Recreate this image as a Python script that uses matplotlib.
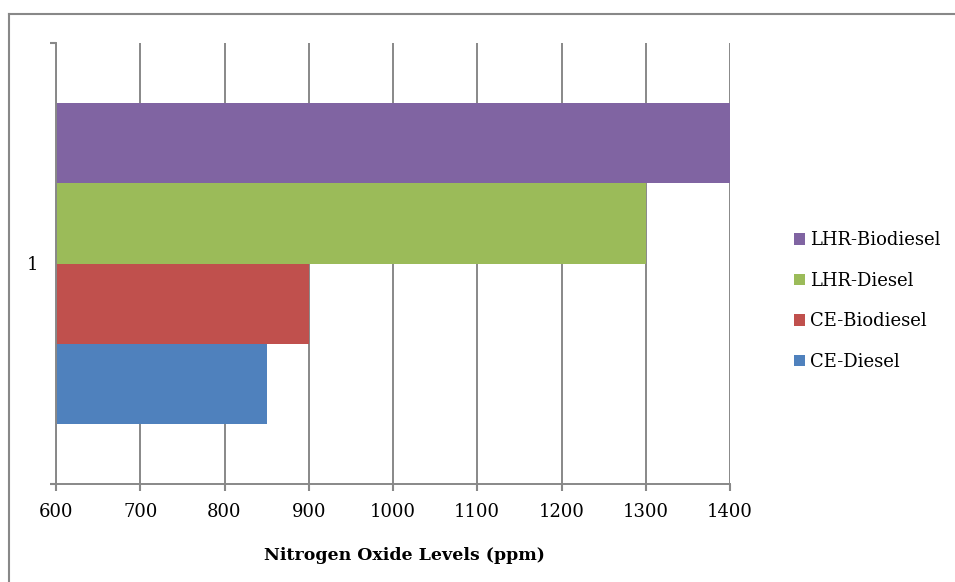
import matplotlib
matplotlib.use("Agg")
import matplotlib.pyplot as plt
from matplotlib.lines import Line2D
from matplotlib.patches import Patch

# Data
series = ["CE-Diesel", "CE-Biodiesel", "LHR-Diesel", "LHR-Biodiesel"]
values = [850, 900, 1300, 1400]
colors = ["#4F81BD", "#C0504D", "#9BBB59", "#8064A2"]
category = "1"
x_ticks = [600, 700, 800, 900, 1000, 1100, 1200, 1300, 1400]

W, H = 955, 582
GRAY = "#888888"
plt.rcParams["font.family"] = ["DejaVu Serif"]
FS = 13

fig = plt.figure(figsize=(W / 100, H / 100), dpi=100)
ax = fig.add_axes([56 / W, (H - 484) / H, (730 - 56) / W, (484 - 43) / H])

bar_h = 0.182
base = 1.0 - 1.5 * bar_h
for i, (name, v, c) in enumerate(zip(series, values, colors)):
    ax.barh(base + i * bar_h, v - 600, left=600, height=bar_h, color=c, label=name)

ax.set_xlim(600, 1400)
ax.set_ylim(0.5, 1.5)
ax.set_xticks(x_ticks)
ax.set_xticklabels([str(t) for t in x_ticks], fontsize=FS)
ax.tick_params(axis="x", direction="out", length=5, width=1.5, color=GRAY, pad=9)

ax.set_yticks([1.0])
ax.set_yticklabels([category], fontsize=FS)
ax.tick_params(axis="y", which="major", length=0, pad=13)
ax.set_yticks([0.5, 1.5], minor=True)
ax.tick_params(axis="y", which="minor", direction="out", length=4.5, width=1.5, color=GRAY)

ax.grid(axis="x", color=GRAY, linewidth=1.4)
ax.set_axisbelow(True)
for side in ("top", "right"):
    ax.spines[side].set_visible(False)
for side in ("left", "bottom"):
    ax.spines[side].set_color(GRAY)
    ax.spines[side].set_linewidth(1.4)

ax.set_xlabel("Nitrogen Oxide Levels (ppm)", fontsize=12.5, fontweight="bold")
ax.xaxis.set_label_coords(0.517, -0.142)

handles = [Patch(facecolor=c, label=n) for n, c in zip(series, colors)][::-1]
fig.legend(handles=handles, loc="center left",
           bbox_to_anchor=(794 / W, 1 - 301 / H), frameon=False, fontsize=FS,
           handlelength=0.6, handleheight=0.6, handletextpad=0.3, labelspacing=1.25,
           borderaxespad=0, borderpad=0)

# outer chart border (left and top edges visible)
fig.add_artist(Line2D([9 / W, 9 / W], [0, 1 - 13.5 / H], transform=fig.transFigure,
                      color=GRAY, linewidth=1.5))
fig.add_artist(Line2D([9 / W, 1], [1 - 13.5 / H, 1 - 13.5 / H], transform=fig.transFigure,
                      color=GRAY, linewidth=1.5))

fig.savefig("out.png", dpi=100)
